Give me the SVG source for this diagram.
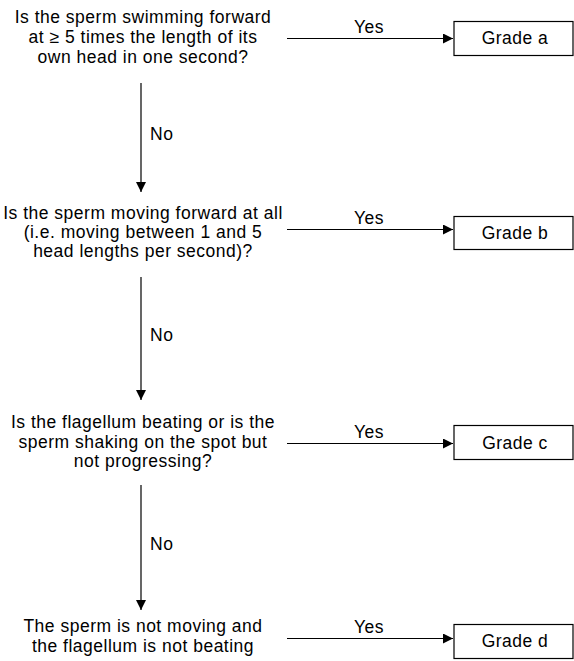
<svg xmlns="http://www.w3.org/2000/svg" width="574" height="661" viewBox="0 0 574 661">
  <style>
    text { font-family: "Liberation Sans", Arial, sans-serif; font-size: 17.5px; letter-spacing: 0.5px; fill: #000; }
    .q { text-anchor: middle; }
    .lbl { text-anchor: middle; }
    .grade { text-anchor: middle; }
    .box { fill: #fff; stroke: #000; stroke-width: 1.2; }
    .edge { stroke: #000; stroke-width: 1.2; fill: none; marker-end: url(#arrow); }
  </style>
  <defs>
    <marker id="arrow" viewBox="0 0 10 10" refX="10" refY="5" markerWidth="10" markerHeight="10" markerUnits="userSpaceOnUse" orient="auto">
      <path d="M0,0 L10,5 L0,10 Z" fill="#000"/>
    </marker>
  </defs>

  <!-- connectors -->
  <g id="connectors">
    <line class="edge" x1="287" y1="38.5" x2="453" y2="38.5"/>
    <line class="edge" x1="287" y1="229.5" x2="453" y2="229.5"/>
    <line class="edge" x1="287" y1="443.5" x2="453" y2="443.5"/>
    <line class="edge" x1="287" y1="638.5" x2="453" y2="638.5"/>
    <line class="edge" x1="141" y1="83" x2="141" y2="192"/>
    <line class="edge" x1="141" y1="277" x2="141" y2="400"/>
    <line class="edge" x1="141" y1="485" x2="141" y2="610"/>
    <text class="lbl" x="369" y="33">Yes</text>
    <text class="lbl" x="369" y="224">Yes</text>
    <text class="lbl" x="369" y="438">Yes</text>
    <text class="lbl" x="369" y="633">Yes</text>
    <text x="150" y="140">No</text>
    <text x="150" y="341">No</text>
    <text x="150" y="550">No</text>
  </g>

  <!-- questions -->
  <g id="q1">
    <text class="q" x="143" y="23">Is the sperm swimming forward</text>
    <text class="q" x="143" y="43">at ≥ 5 times the length of its</text>
    <text class="q" x="143" y="63">own head in one second?</text>
  </g>
  <g id="q2">
    <text class="q" x="143" y="219">Is the sperm moving forward at all</text>
    <text class="q" x="143" y="238">(i.e. moving between 1 and 5</text>
    <text class="q" x="143" y="257">head lengths per second)?</text>
  </g>
  <g id="q3">
    <text class="q" x="143" y="428">Is the flagellum beating or is the</text>
    <text class="q" x="143" y="448">sperm shaking on the spot but</text>
    <text class="q" x="143" y="467">not progressing?</text>
  </g>
  <g id="q4">
    <text class="q" x="143" y="632">The sperm is not moving and</text>
    <text class="q" x="143" y="652">the flagellum is not beating</text>
  </g>

  <!-- grades -->
  <g id="grade-a">
    <rect class="box" x="454" y="21.5" width="119" height="34"/>
    <text class="grade" x="515" y="44">Grade a</text>
  </g>
  <g id="grade-b">
    <rect class="box" x="454" y="216.5" width="119" height="33"/>
    <text class="grade" x="515" y="239">Grade b</text>
  </g>
  <g id="grade-c">
    <rect class="box" x="454" y="425.5" width="119" height="34"/>
    <text class="grade" x="515" y="449">Grade c</text>
  </g>
  <g id="grade-d">
    <rect class="box" x="454" y="624.5" width="119" height="34"/>
    <text class="grade" x="515" y="647">Grade d</text>
  </g>
</svg>
